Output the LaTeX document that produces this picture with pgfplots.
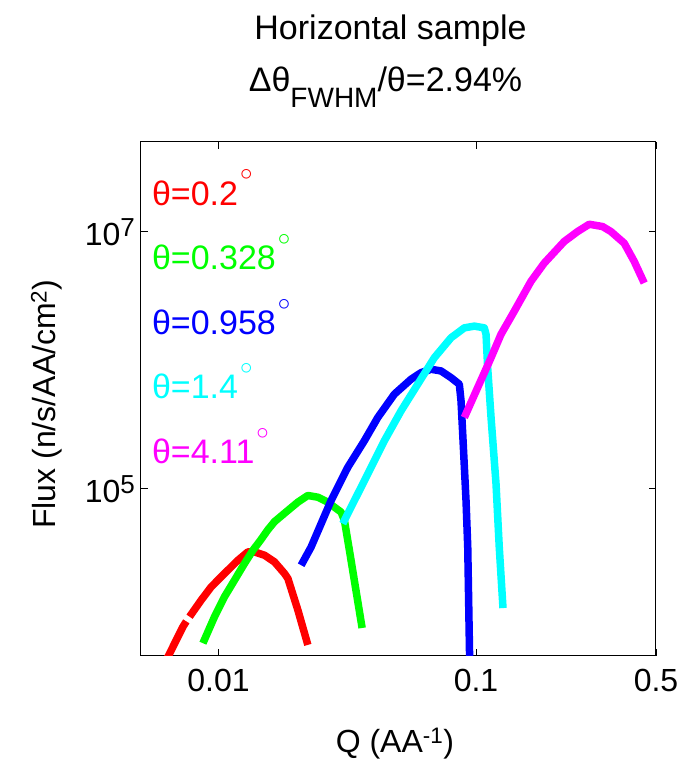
\documentclass[border=0pt]{standalone}
\usepackage{fontspec}
\setmainfont{Liberation Sans}
\usepackage{pgfplots}
\pgfplotsset{compat=1.18}
\definecolor{mred}{rgb}{1,0,0}
\definecolor{mgreen}{rgb}{0,1,0}
\definecolor{mblue}{rgb}{0,0,1}
\definecolor{mcyan}{rgb}{0,1,1}
\definecolor{mmagenta}{rgb}{1,0,1}
\newcommand{\degc}{\hspace{2pt}\raisebox{0.72em}{\fontsize{23}{23}\selectfont$\circ$}}
\begin{document}
\begin{tikzpicture}
\path[use as bounding box] (-141pt,-105pt) rectangle (542pt,656pt);
\begin{axis}[
  scale only axis, width=515pt, height=514pt,
  xmode=log, ymode=log,
  xmin=0.005, xmax=0.5, ymin=5e3, ymax=5e7,
  xtick={0.01,0.1,0.5}, xticklabels={0.01,0.1,0.5},
  ytick={1e5,1e7}, yticklabels={10\textsuperscript{\fontsize{26}{30}\selectfont 5},10\textsuperscript{\fontsize{26}{30}\selectfont 7}},
  yminorticks=false,
  tick align=inside,
  major tick length=7pt, minor tick length=4pt,
  every tick/.style={black, line width=0.8pt},
  axis line style={line width=1pt},
  font=\fontsize{32}{38}\selectfont,
  tick label style={font=\fontsize{32}{38}\selectfont},
  xticklabel style={yshift=-10pt},
  yticklabel style={xshift=-2pt},
  xlabel={Q (AA\textsuperscript{-1})},
  ylabel={Flux (n/s/AA/cm\textsuperscript{2})},
  xlabel style={at={(axis description cs:0.493,0)}, anchor=base, yshift=-97pt},
  ylabel style={at={(axis description cs:-0.183,0.49)}, anchor=center},
  clip mode=individual,
  unbounded coords=jump,
  every axis plot/.append style={line width=7.5pt, line join=round},
]
\addplot[mred] coordinates {
(0.0062,4500) (0.00637,4955) (0.00728,8460) (0.0075,9300)
(0.0076,nan)
(0.00772,10110) (0.00857,13620) (0.00937,17260) (0.01055,21930)
(0.0119,27800) (0.0130,32270) (0.0138,32270) (0.01509,30410)
(0.0165,26980) (0.01804,21930) (0.0186,20050) (0.02033,11400) (0.02223,6100)
};
\addplot[mgreen] coordinates {
(0.00870,6290) (0.00965,10110) (0.01055,14450) (0.01154,19460)
(0.01262,26240) (0.01360,33240) (0.01465,40500) (0.01555,48000)
(0.0165,55500) (0.0186,67890) (0.02033,78730) (0.02223,88740)
(0.0243,86050) (0.02658,78730) (0.02819,71990) (0.02993,65870)
(0.03083,56780) (0.03224,33240) (0.03612,8260)
};
\addplot[mblue] coordinates {
(0.02094,25430) (0.02289,35250) (0.02737,81160) (0.03178,147100)
(0.03686,236800) (0.04155,358900) (0.04819,545100) (0.05595,712300)
(0.06117,801500) (0.06690,851700) (0.07314,826400) (0.07998,733000)
(0.08614,651600) (0.08746,483500) (0.08880,266900) (0.09146,81160)
(0.09287,35250) (0.0945,4500)
};
\addplot[mcyan] coordinates {
(0.03039,53560) (0.03579,102900) (0.04408,236800) (0.05117,404600)
(0.05939,651600) (0.06891,1048000) (0.07998,1497000) (0.09008,1789000)
(0.09849,1845000) (0.1077,1789000) (0.1094,1591000) (0.1110,876300)
(0.1144,358900) (0.1196,109300) (0.1231,35250) (0.1273,11800)
};
\addplot[mmagenta] coordinates {
(0.09008,358900) (0.1015,613500) (0.1144,1048000) (0.1250,1591000)
(0.1408,2411000) (0.1635,4119000) (0.1841,5709000) (0.2201,8410000)
(0.2481,10050000) (0.2753,11450000) (0.3102,10990000) (0.3341,10050000)
(0.3763,8157000) (0.4115,5885000) (0.4500,3997000)
};
\begin{scope}[every node/.style={anchor=base west, inner sep=0pt, font=\fontsize{34}{40}\selectfont}]
\node[text=mred] at (rel axis cs:0.021,0.877) {θ=0.2\degc};
\node[text=mgreen] at (rel axis cs:0.021,0.751) {θ=0.328\degc};
\node[text=mblue] at (rel axis cs:0.021,0.625) {θ=0.958\degc};
\node[text=mcyan] at (rel axis cs:0.021,0.500) {θ=1.4\degc};
\node[text=mmagenta] at (rel axis cs:0.021,0.374) {θ=4.11\degc};
\end{scope}
\end{axis}
\node[anchor=base, inner sep=0pt, font=\fontsize{34}{40}\selectfont] at ([xshift=-8pt,yshift=102pt]current axis.north) {Horizontal sample};
\node[anchor=base, inner sep=0pt, font=\fontsize{34}{40}\selectfont] at ([xshift=-13pt,yshift=50pt]current axis.north) {Δθ\raisebox{-0.45em}{\fontsize{28}{32}\selectfont FWHM}/θ=2.94\%};
\end{tikzpicture}
\end{document}
